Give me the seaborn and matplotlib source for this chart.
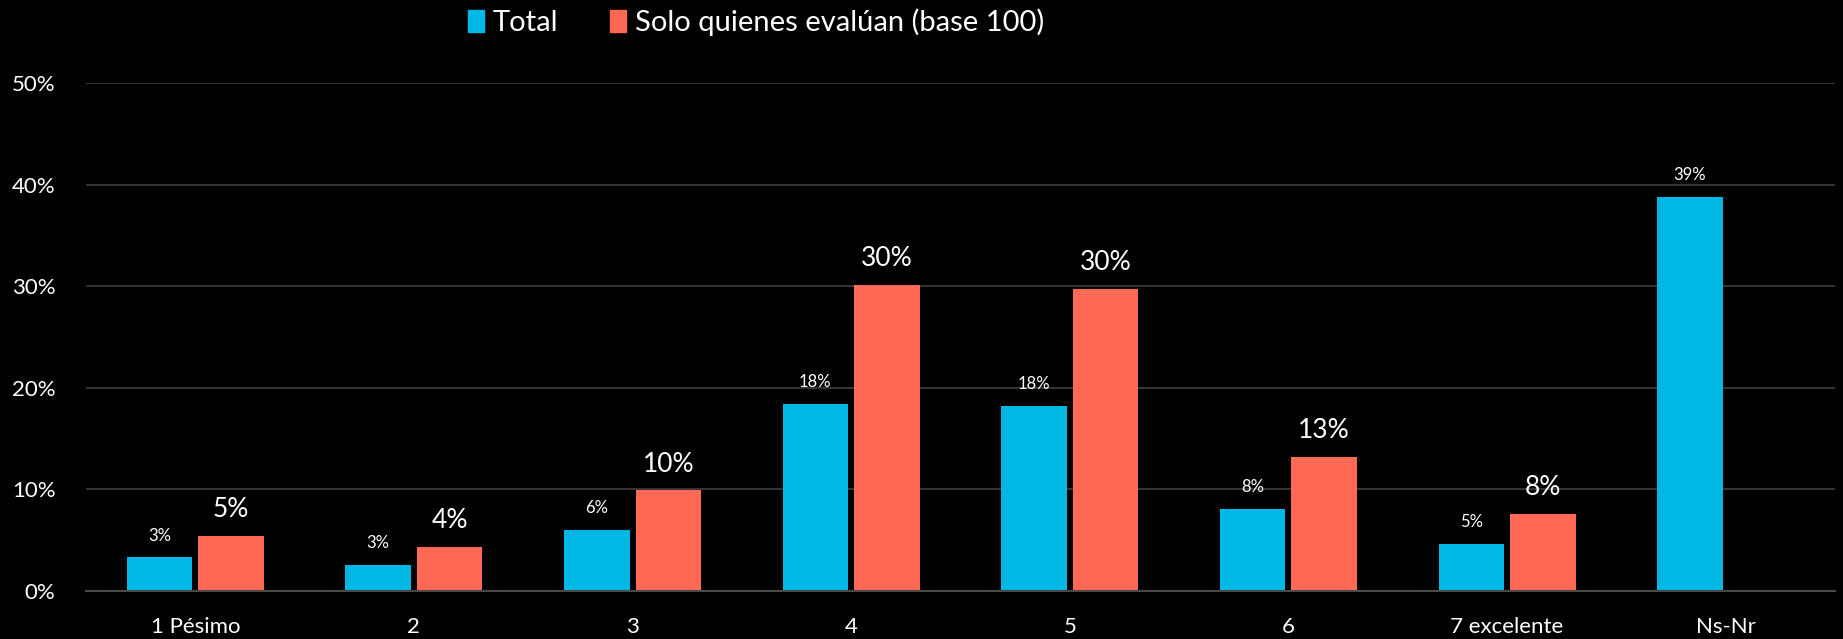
import pandas as pd
import numpy as np
import seaborn as sns
import matplotlib.pyplot as plt

sns.set_style("dark")
plt.rcParams['font.family'] = ['Lato', 'DejaVu Sans']

# Data (shares)
categorias = ['1 Pésimo', '2', '3', '4', '5', '6', '7 excelente', 'Ns-Nr']
total = [0.033, 0.026, 0.060, 0.184, 0.182, 0.081, 0.046, 0.388]
solo_evaluan = [0.054, 0.043, 0.099, 0.301, 0.297, 0.132, 0.076, np.nan]
series = ['Total', 'Solo quienes evalúan (base 100)']
colores = ['#00B8E6', '#FF6955']

df = pd.DataFrame({
    'cat': categorias * 2,
    'valor': total + solo_evaluan,
    'serie': [series[0]] * len(categorias) + [series[1]] * len(categorias),
})

fig, ax = plt.subplots(figsize=(18.43, 6.39), dpi=100)
fig.patch.set_facecolor('black')
ax.set_facecolor('black')

sns.barplot(data=df, x='cat', y='valor', hue='serie', order=categorias,
            hue_order=series, palette=colores, width=0.655, gap=0.085,
            saturation=1, ax=ax, errorbar=None, linewidth=0, edgecolor='none')

# data labels: small for Total, large for the base-100 series
ax.bar_label(ax.containers[0], labels=[f'{v:.0%}' for v in total],
             padding=10, color='white', fontsize=12)
ax.bar_label(ax.containers[1],
             labels=[f'{v:.0%}' for v in solo_evaluan if not np.isnan(v)],
             padding=10, color='white', fontsize=19)

ax.set_ylim(0, 0.5)
ax.set_yticks(np.arange(0, 0.51, 0.1))
ax.set_yticklabels([f'{int(t * 100)}%' for t in np.arange(0, 0.51, 0.1)])
ax.set_xlim(-0.5, len(categorias) - 0.5)
ax.grid(axis='y', color='#3a3a3a', linewidth=1.3)
ax.grid(axis='x', visible=False)
ax.set_axisbelow(True)
for s in ['top', 'right', 'left']:
    ax.spines[s].set_visible(False)
ax.spines['bottom'].set_color('#4a4a4a')
ax.spines['bottom'].set_linewidth(1.5)
ax.tick_params(axis='both', length=0, colors='white', labelsize=16)
ax.tick_params(axis='x', pad=19)
ax.tick_params(axis='y', pad=22)
ax.set_xlabel('')
ax.set_ylabel('')

ax.get_legend().remove()
handles = [plt.Rectangle((0, 0), 1, 1, color=c) for c in colores]
fig.legend(handles, series, loc='center', bbox_to_anchor=(756 / 1843, 1 - 22 / 639),
           ncol=2, frameon=False, fontsize=21, labelcolor='white',
           handlelength=0.55, handleheight=0.8, handletextpad=0.3, columnspacing=1.8)

fig.subplots_adjust(left=86 / 1843, right=1835 / 1843, bottom=1 - 591 / 639, top=1 - 83 / 639)
fig.savefig('out.png', dpi=100, facecolor='black')
